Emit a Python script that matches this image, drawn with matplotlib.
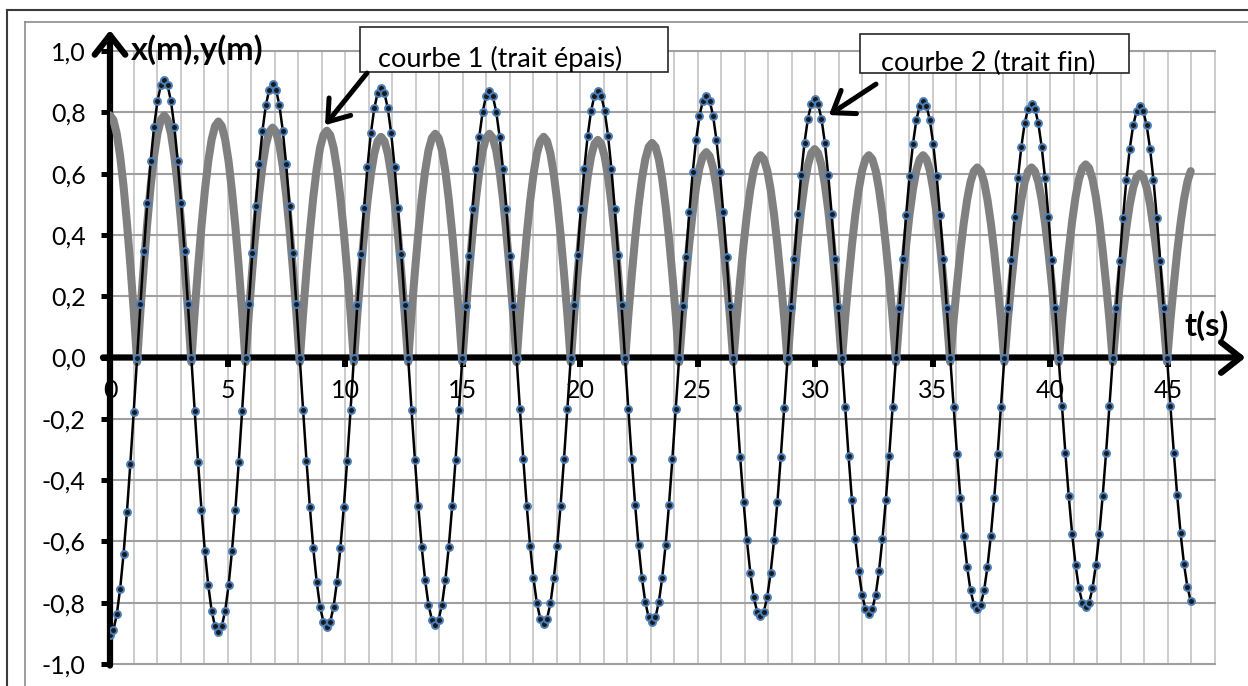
import numpy as np
import matplotlib
matplotlib.use("Agg")
import matplotlib.pyplot as plt
from matplotlib.lines import Line2D
from matplotlib.patches import Rectangle

plt.rcParams['font.family'] = ['Lato', 'DejaVu Sans']

DT = 0.1441  # time between two samples (s), 32 samples per oscillation

# courbe 2 (trait fin) : x(m), one row per oscillation
x_curve2 = [
    -0.907, -0.890, -0.838, -0.754, -0.641, -0.504, -0.347, -0.177, 0.000,
    0.176, 0.347, 0.503, 0.640, 0.752, 0.836, 0.888, 0.905, 0.888, 0.836, 0.752, 0.640, 0.503, 0.347, 0.176,
    0.000, -0.174, -0.342, -0.497, -0.632, -0.743, -0.826, -0.877,
    -0.894, -0.877, -0.826, -0.743, -0.632, -0.497, -0.342, -0.174, 0.000,
    0.174, 0.341, 0.495, 0.630, 0.740, 0.823, 0.874, 0.891, 0.874, 0.823, 0.740, 0.630, 0.495, 0.341, 0.174,
    0.000, -0.172, -0.337, -0.489, -0.622, -0.731, -0.813, -0.863,
    -0.880, -0.863, -0.813, -0.731, -0.622, -0.489, -0.337, -0.172, 0.000,
    0.172, 0.337, 0.489, 0.622, 0.731, 0.813, 0.863, 0.880, 0.863, 0.813, 0.731, 0.622, 0.489, 0.337, 0.172,
    0.000, -0.170, -0.334, -0.485, -0.617, -0.725, -0.806, -0.855,
    -0.872, -0.855, -0.806, -0.725, -0.617, -0.485, -0.334, -0.170, 0.000,
    0.169, 0.332, 0.483, 0.614, 0.721, 0.802, 0.852, 0.868, 0.852, 0.802, 0.721, 0.614, 0.483, 0.332, 0.169,
    0.000, -0.169, -0.332, -0.483, -0.614, -0.721, -0.802, -0.852,
    -0.868, -0.852, -0.802, -0.721, -0.614, -0.483, -0.332, -0.169, 0.000,
    0.170, 0.334, 0.484, 0.616, 0.724, 0.805, 0.854, 0.871, 0.854, 0.805, 0.724, 0.616, 0.484, 0.334, 0.170,
    0.000, -0.168, -0.331, -0.480, -0.611, -0.718, -0.798, -0.848,
    -0.864, -0.848, -0.798, -0.718, -0.611, -0.480, -0.331, -0.168, 0.000,
    0.167, 0.327, 0.475, 0.604, 0.710, 0.789, 0.838, 0.854, 0.838, 0.789, 0.710, 0.604, 0.475, 0.327, 0.167,
    0.000, -0.165, -0.324, -0.470, -0.597, -0.702, -0.781, -0.829,
    -0.845, -0.829, -0.781, -0.702, -0.597, -0.470, -0.324, -0.165, 0.000,
    0.164, 0.323, 0.469, 0.596, 0.701, 0.779, 0.827, 0.843, 0.827, 0.779, 0.701, 0.596, 0.469, 0.323, 0.164,
    0.000, -0.163, -0.321, -0.466, -0.592, -0.696, -0.774, -0.822,
    -0.838, -0.822, -0.774, -0.696, -0.592, -0.466, -0.321, -0.163, 0.000,
    0.163, 0.321, 0.466, 0.592, 0.696, 0.774, 0.822, 0.838, 0.822, 0.774, 0.696, 0.592, 0.466, 0.321, 0.163,
    0.000, -0.160, -0.315, -0.457, -0.581, -0.683, -0.760, -0.806,
    -0.822, -0.806, -0.760, -0.683, -0.581, -0.457, -0.315, -0.160, 0.000,
    0.161, 0.317, 0.460, 0.585, 0.688, 0.765, 0.812, 0.828, 0.812, 0.765, 0.688, 0.585, 0.460, 0.317, 0.161,
    0.000, -0.159, -0.312, -0.453, -0.576, -0.677, -0.753, -0.800,
    -0.815, -0.800, -0.753, -0.677, -0.576, -0.453, -0.312, -0.159, 0.000,
    0.160, 0.314, 0.455, 0.579, 0.681, 0.757, 0.803, 0.819, 0.803, 0.757, 0.681, 0.579, 0.455, 0.314, 0.160,
    0.000, -0.158, -0.310, -0.450, -0.573, -0.673, -0.748, -0.795,
]

# courbe 1 (trait épais) : y(m), same samples
y_curve1 = [
    0.790, 0.775, 0.730, 0.656, 0.559, 0.439, 0.303, 0.154, -0.015,
    0.154, 0.303, 0.439, 0.559, 0.656, 0.730, 0.775, 0.790, 0.775, 0.730, 0.656, 0.559, 0.439, 0.303, 0.154,
    -0.015, 0.150, 0.295, 0.428, 0.544, 0.640, 0.711, 0.755,
    0.770, 0.755, 0.711, 0.640, 0.544, 0.428, 0.295, 0.150, -0.015,
    0.146, 0.287, 0.417, 0.530, 0.623, 0.693, 0.736, 0.750, 0.736, 0.693, 0.623, 0.530, 0.417, 0.287, 0.146,
    -0.015, 0.144, 0.283, 0.411, 0.523, 0.615, 0.684, 0.726,
    0.740, 0.726, 0.684, 0.615, 0.523, 0.411, 0.283, 0.144, -0.015,
    0.140, 0.276, 0.400, 0.509, 0.598, 0.665, 0.706, 0.720, 0.706, 0.665, 0.598, 0.509, 0.400, 0.276, 0.140,
    -0.015, 0.142, 0.280, 0.406, 0.516, 0.607, 0.675, 0.716,
    0.730, 0.716, 0.675, 0.607, 0.516, 0.406, 0.280, 0.142, -0.015,
    0.142, 0.280, 0.406, 0.516, 0.607, 0.675, 0.716, 0.730, 0.716, 0.675, 0.607, 0.516, 0.406, 0.280, 0.142,
    -0.015, 0.140, 0.276, 0.400, 0.509, 0.598, 0.665, 0.706,
    0.720, 0.706, 0.665, 0.598, 0.509, 0.400, 0.276, 0.140, -0.015,
    0.138, 0.272, 0.395, 0.502, 0.590, 0.656, 0.697, 0.710, 0.697, 0.656, 0.590, 0.502, 0.395, 0.272, 0.138,
    -0.015, 0.137, 0.268, 0.389, 0.495, 0.582, 0.647, 0.687,
    0.700, 0.687, 0.647, 0.582, 0.495, 0.389, 0.268, 0.137, -0.015,
    0.131, 0.257, 0.373, 0.474, 0.557, 0.619, 0.657, 0.670, 0.657, 0.619, 0.557, 0.474, 0.373, 0.257, 0.131,
    -0.015, 0.129, 0.253, 0.367, 0.467, 0.548, 0.610, 0.647,
    0.660, 0.647, 0.610, 0.548, 0.467, 0.367, 0.253, 0.129, -0.015,
    0.133, 0.260, 0.378, 0.481, 0.565, 0.628, 0.667, 0.680, 0.667, 0.628, 0.565, 0.481, 0.378, 0.260, 0.133,
    -0.015, 0.129, 0.253, 0.367, 0.467, 0.548, 0.610, 0.647,
    0.660, 0.647, 0.610, 0.548, 0.467, 0.367, 0.253, 0.129, -0.015,
    0.129, 0.253, 0.367, 0.467, 0.548, 0.610, 0.647, 0.660, 0.647, 0.610, 0.548, 0.467, 0.367, 0.253, 0.129,
    -0.015, 0.121, 0.237, 0.345, 0.438, 0.515, 0.573, 0.608,
    0.620, 0.608, 0.573, 0.515, 0.438, 0.345, 0.237, 0.121, -0.015,
    0.121, 0.237, 0.345, 0.438, 0.515, 0.573, 0.608, 0.620, 0.608, 0.573, 0.515, 0.438, 0.345, 0.237, 0.121,
    -0.015, 0.123, 0.241, 0.350, 0.445, 0.524, 0.582, 0.618,
    0.630, 0.618, 0.582, 0.524, 0.445, 0.350, 0.241, 0.123, -0.015,
    0.117, 0.230, 0.334, 0.424, 0.499, 0.554, 0.589, 0.600, 0.589, 0.554, 0.499, 0.424, 0.334, 0.230, 0.117,
    -0.015, 0.121, 0.237, 0.345, 0.438, 0.515, 0.573, 0.608,
]

t = np.arange(len(x_curve2)) * DT

x_ticks = [0, 5, 10, 15, 20, 25, 30, 35, 40, 45]
y_ticks = [-1.0, -0.8, -0.6, -0.4, -0.2, 0.0, 0.2, 0.4, 0.6, 0.8, 1.0]
y_labels = ['-1,0', '-0,8', '-0,6', '-0,4', '-0,2', '0,0', '0,2', '0,4', '0,6', '0,8', '1,0']

W, H = 1248, 686
fig = plt.figure(figsize=(W / 100, H / 100), dpi=100)
ax = fig.add_axes([110 / W, (H - 664) / H, 1105 / W, 613 / H])
ax.set_xlim(0, 47)
ax.set_ylim(-1, 1)

# grid
for v in range(1, 48):
    ax.axvline(v, color='#c8c8c8', lw=1.3, zorder=0, clip_on=False)
for h in y_ticks:
    ax.axhline(h, color='#a0a0a0', lw=1.5, zorder=0.5, clip_on=False)

for s in ax.spines.values():
    s.set_visible(False)
ax.spines['bottom'].set_position(('data', 0))

ax.set_xticks(x_ticks)
ax.set_xticklabels([str(v) for v in x_ticks])
ax.set_yticks(y_ticks)
ax.set_yticklabels(y_labels)
ax.tick_params(axis='x', direction='out', length=6.5, width=4.3, pad=9, labelsize=18)
ax.tick_params(axis='y', direction='out', length=6.5, width=3.6, pad=11, labelsize=18)

# axes with arrows
axis_arrow = dict(arrowstyle='->,head_length=0.7,head_width=0.55', lw=4.5, color='black',
                  shrinkA=0, shrinkB=0, mutation_scale=20)
ax.annotate('', xy=(48.3, 0), xytext=(-0.3, 0), arrowprops=axis_arrow, annotation_clip=False, zorder=2)
ax.annotate('', xy=(0, 1.068), xytext=(0, -1.005), arrowprops=axis_arrow, annotation_clip=False, zorder=2)

# curves
ax.plot(t, y_curve1, color='#808080', lw=5.8, zorder=3, solid_joinstyle='round', solid_capstyle='round')
ax.plot(t, x_curve2, color='black', lw=1.8, marker='o', ms=5, mfc='#1a1a1a', mec='#4a7ebb', mew=1.4, zorder=4)

ax.text(3.70, 1.003, 'x(m),y(m)', fontsize=23.5, fontweight='bold', ha='center', va='center', zorder=5)
ax.text(46.66, 0.103, 't(s)', fontsize=23.5, fontweight='bold', ha='center', va='center', zorder=5)

# labels in boxes
ax.add_patch(Rectangle((10.63, 0.931), 13.10, 0.147, fc='white', ec='#262626', lw=1.2, clip_on=False, zorder=6))
ax.text(11.40, 0.948, 'courbe 1 (trait épais)', fontsize=19.5, va='baseline', zorder=7)
ax.add_patch(Rectangle((31.90, 0.928), 11.44, 0.127, fc='white', ec='#262626', lw=1.2, clip_on=False, zorder=6))
ax.text(32.79, 0.935, 'courbe 2 (trait fin)', fontsize=19.5, va='baseline', zorder=7)

label_arrow = dict(arrowstyle='->,head_length=0.7,head_width=0.5', lw=3.6, color='black',
                   shrinkA=0, shrinkB=0, mutation_scale=20)
ax.annotate('', xy=(9.145, 0.758), xytext=(10.93, 0.928), arrowprops=label_arrow, annotation_clip=False, zorder=7)
ax.annotate('', xy=(30.58, 0.791), xytext=(32.58, 0.892), arrowprops=label_arrow, annotation_clip=False, zorder=7)

# frame around the chart
fig.add_artist(Line2D([7 / W, 7 / W], [0, 1 - 10 / H], color='#3a3a3a', lw=1.5))
fig.add_artist(Line2D([7 / W, 1], [1 - 10 / H, 1 - 10 / H], color='#3a3a3a', lw=1.5))
fig.add_artist(Line2D([25 / W, 25 / W], [0, 1 - 22 / H], color='#8c8c8c', lw=1.2))
fig.add_artist(Line2D([25 / W, 1], [1 - 22 / H, 1 - 22 / H], color='#8c8c8c', lw=1.2))

fig.savefig('out.png', dpi=100)
